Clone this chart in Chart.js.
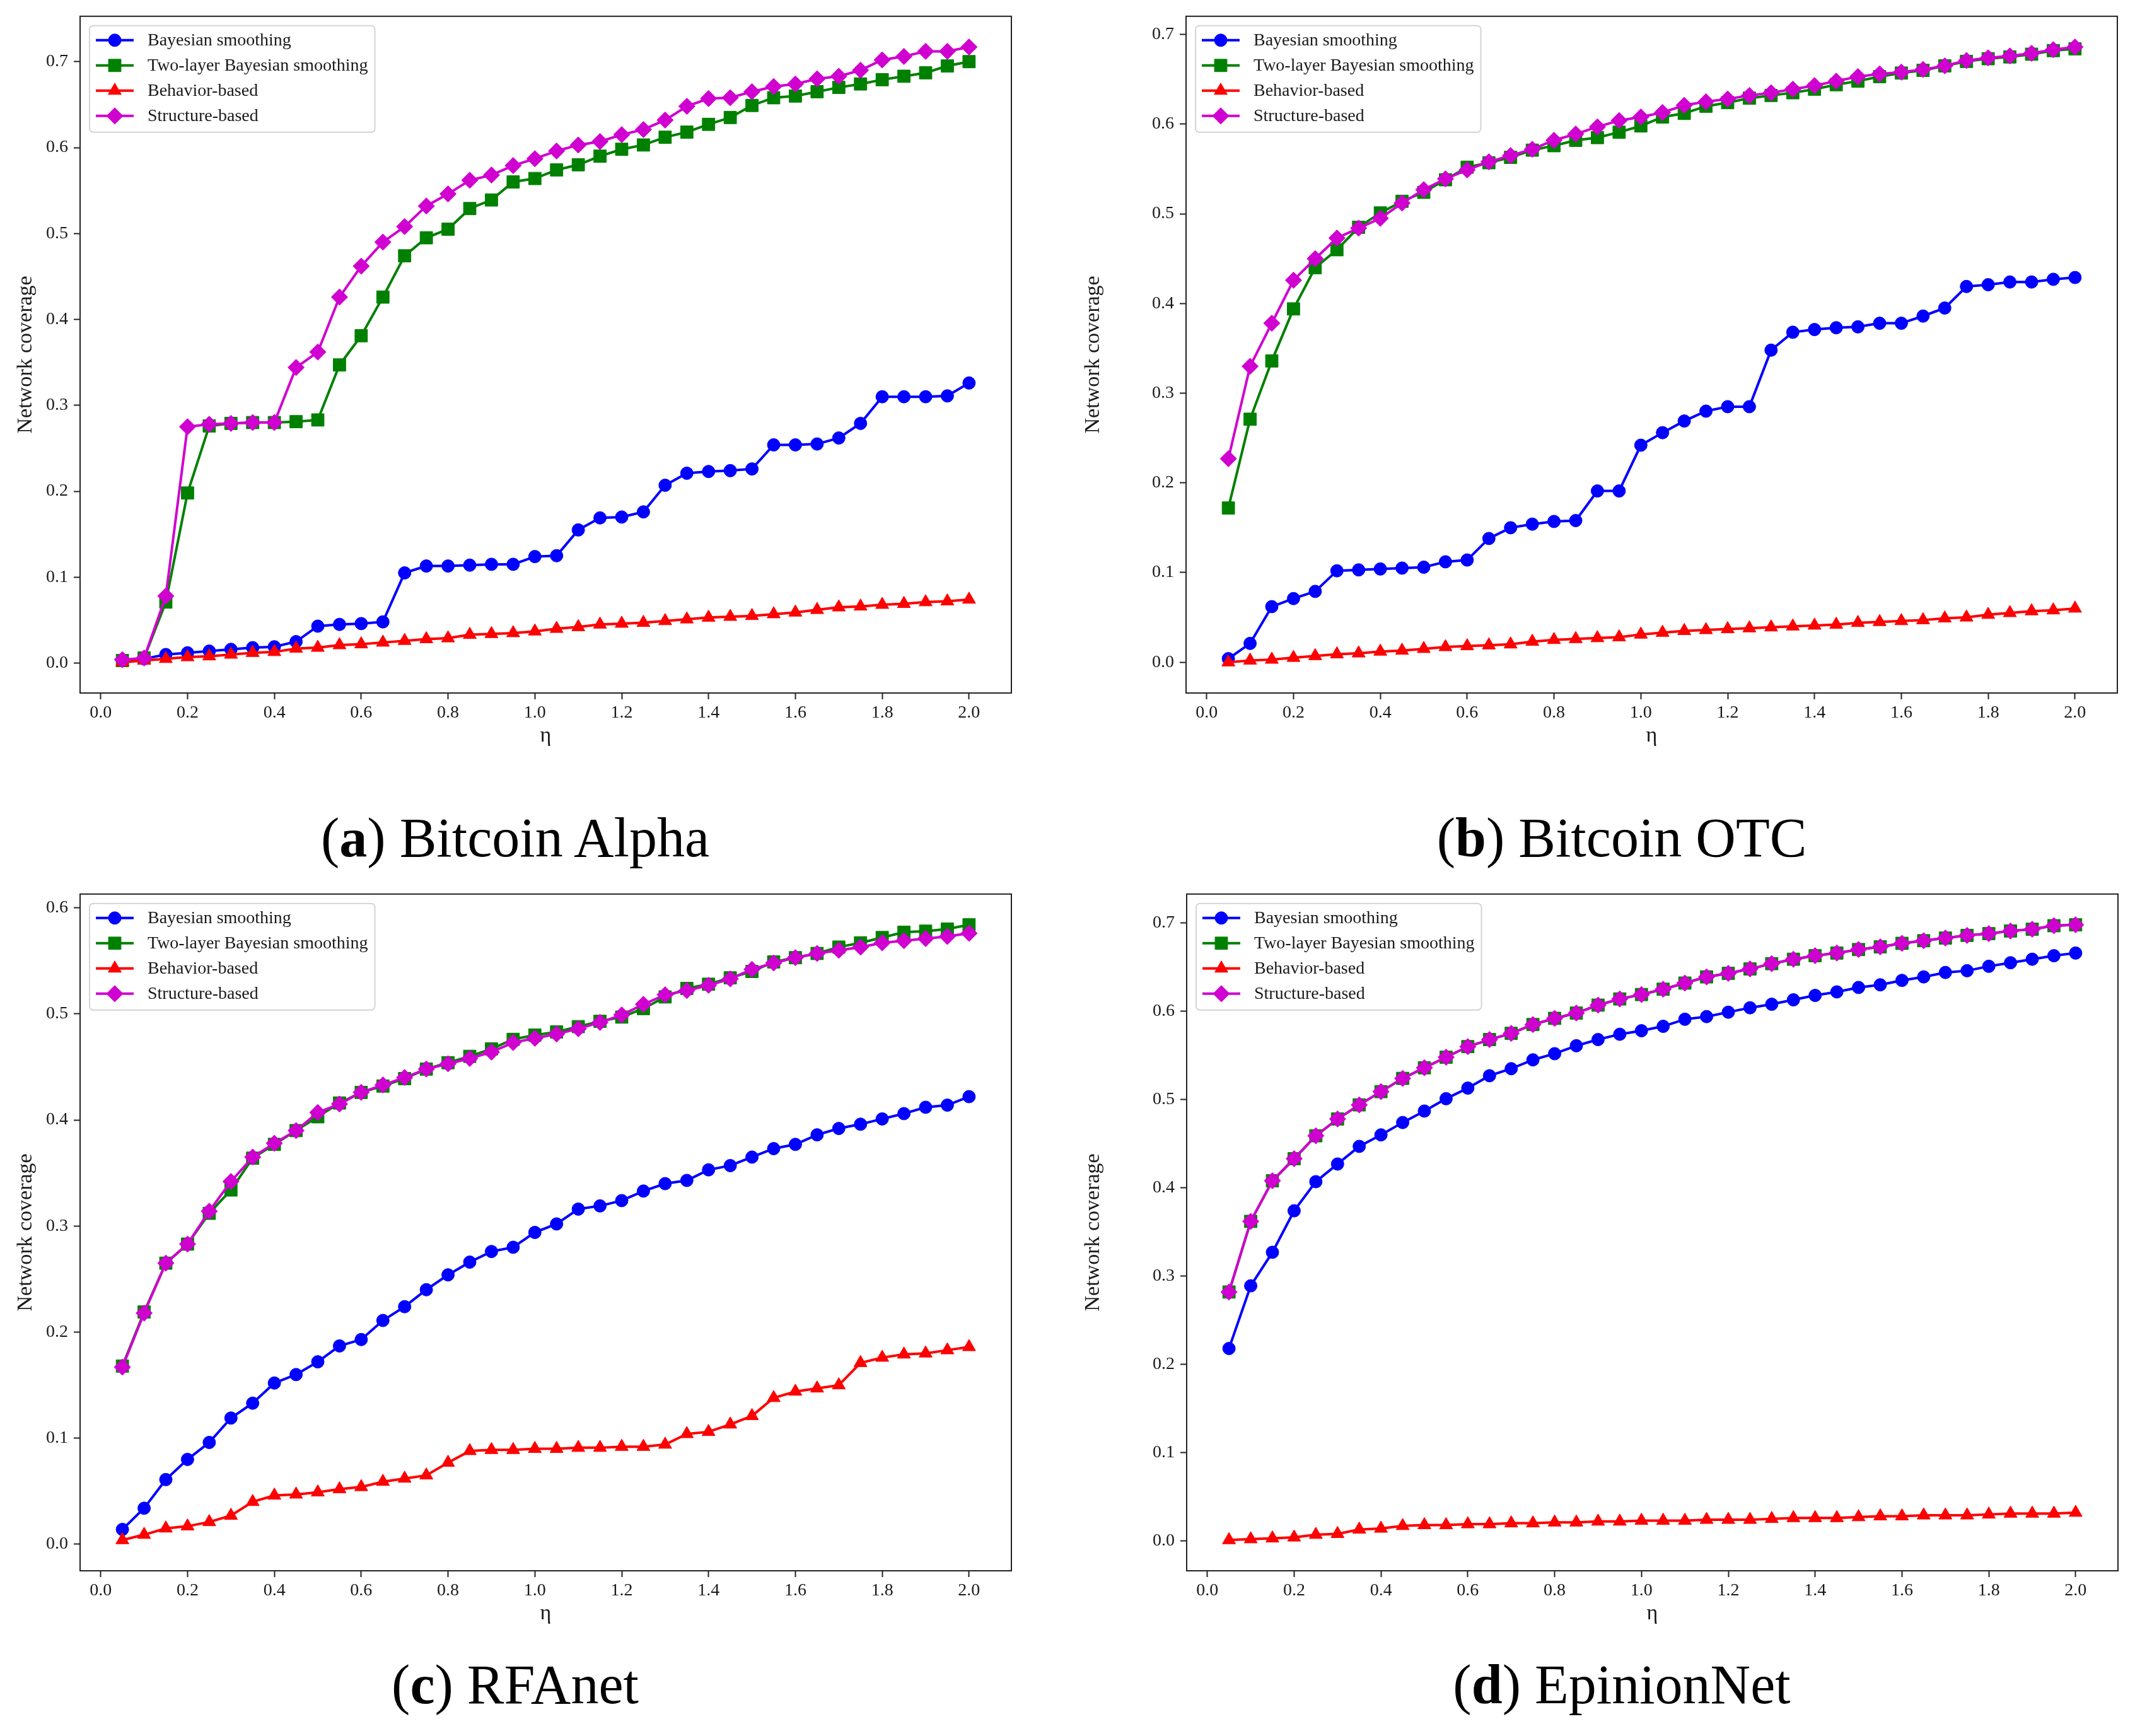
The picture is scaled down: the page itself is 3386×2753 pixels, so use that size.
<!DOCTYPE html>
<html><head><meta charset="utf-8">
<script src="https://cdn.jsdelivr.net/npm/chart.js@4/dist/chart.umd.min.js"></script>
<style>
html,body{margin:0;padding:0;background:#fff;}
body{width:3386px;height:2753px;position:relative;overflow:hidden;}
.panel{position:absolute;width:1693px;height:1200px;}
.cap{position:absolute;width:1400px;text-align:center;font-family:"Liberation Serif";font-size:88px;line-height:88px;color:#000;white-space:nowrap;}
</style></head><body>
<div class="panel" style="left:0px;top:0px"><canvas id="ca" width="1693" height="1200"></canvas></div>
<div class="panel" style="left:1693px;top:0px"><canvas id="cb" width="1693" height="1200"></canvas></div>
<div class="panel" style="left:0px;top:1392px"><canvas id="cc" width="1693" height="1200"></canvas></div>
<div class="panel" style="left:1693px;top:1392px"><canvas id="cd" width="1693" height="1200"></canvas></div>
<div class="cap" style="left:117px;top:1285px">(<b>a</b>) Bitcoin Alpha</div>
<div class="cap" style="left:1872px;top:1285px">(<b>b</b>) Bitcoin OTC</div>
<div class="cap" style="left:117px;top:2628px">(<b>c</b>) RFAnet</div>
<div class="cap" style="left:1872px;top:2628px">(<b>d</b>) EpinionNet</div>
<script>
// ---------- data ----------
const eta = [0.05,0.10,0.15,0.20,0.25,0.30,0.35,0.40,0.45,0.50,0.55,0.60,0.65,0.70,0.75,0.80,0.85,0.90,0.95,1.00,
             1.05,1.10,1.15,1.20,1.25,1.30,1.35,1.40,1.45,1.50,1.55,1.60,1.65,1.70,1.75,1.80,1.85,1.90,1.95,2.00];
const xTicks = [0.0,0.2,0.4,0.6,0.8,1.0,1.2,1.4,1.6,1.8,2.0];
const yTicks07 = [0.0,0.1,0.2,0.3,0.4,0.5,0.6,0.7];
const yTicks06 = [0.0,0.1,0.2,0.3,0.4,0.5,0.6];
const seriesNames = ['Bayesian smoothing','Two-layer Bayesian smoothing','Behavior-based','Structure-based'];
const panelCaptions = ['Bitcoin Alpha','Bitcoin OTC','RFAnet','EpinionNet'];

const alphaBayes = [0.003,0.005,0.010,0.012,0.014,0.016,0.018,0.019,0.025,0.043,0.045,0.046,0.048,0.105,0.113,0.113,0.114,0.115,0.115,0.124,
                    0.125,0.155,0.169,0.170,0.176,0.207,0.221,0.223,0.224,0.226,0.254,0.254,0.255,0.262,0.279,0.310,0.310,0.310,0.311,0.326];
const alphaTwoLayer = [0.003,0.006,0.071,0.198,0.276,0.279,0.280,0.280,0.281,0.283,0.347,0.381,0.426,0.474,0.495,0.505,0.529,0.539,0.560,0.564,
                       0.574,0.580,0.590,0.598,0.603,0.612,0.618,0.627,0.635,0.649,0.658,0.660,0.665,0.670,0.674,0.679,0.683,0.687,0.695,0.700];
const alphaBehavior = [0.001,0.003,0.005,0.007,0.008,0.010,0.012,0.013,0.017,0.018,0.021,0.022,0.024,0.026,0.028,0.029,0.033,0.034,0.035,0.037,
                       0.040,0.042,0.045,0.046,0.047,0.049,0.051,0.053,0.054,0.055,0.057,0.059,0.062,0.065,0.066,0.068,0.069,0.071,0.072,0.074];
const alphaStructure = [0.004,0.006,0.078,0.275,0.278,0.279,0.280,0.280,0.344,0.362,0.426,0.462,0.490,0.508,0.532,0.546,0.562,0.568,0.579,0.587,
                        0.596,0.603,0.607,0.615,0.621,0.632,0.648,0.657,0.658,0.665,0.671,0.674,0.680,0.683,0.690,0.702,0.706,0.712,0.712,0.717];

const otcBayes = [0.004,0.021,0.062,0.071,0.079,0.102,0.103,0.104,0.105,0.106,0.112,0.114,0.138,0.150,0.154,0.157,0.158,0.191,0.191,0.242,
                  0.256,0.269,0.280,0.285,0.285,0.348,0.368,0.371,0.373,0.374,0.378,0.378,0.386,0.395,0.419,0.421,0.424,0.424,0.427,0.429];
const otcTwoLayer = [0.172,0.271,0.336,0.394,0.440,0.460,0.485,0.501,0.514,0.524,0.538,0.552,0.557,0.563,0.571,0.576,0.582,0.585,0.591,0.598,
                     0.608,0.612,0.620,0.624,0.629,0.632,0.635,0.639,0.644,0.648,0.653,0.657,0.660,0.665,0.670,0.673,0.675,0.678,0.682,0.684];
const otcBehavior = [0.000,0.002,0.003,0.005,0.007,0.009,0.010,0.012,0.013,0.015,0.017,0.018,0.019,0.020,0.023,0.025,0.026,0.027,0.028,0.031,
                     0.033,0.035,0.036,0.037,0.038,0.039,0.040,0.041,0.042,0.044,0.045,0.046,0.047,0.049,0.050,0.053,0.055,0.057,0.058,0.060];
const otcStructure = [0.227,0.330,0.378,0.426,0.450,0.473,0.484,0.495,0.512,0.527,0.539,0.549,0.558,0.565,0.572,0.582,0.589,0.597,0.604,0.608,
                      0.613,0.621,0.625,0.628,0.632,0.635,0.639,0.643,0.648,0.653,0.656,0.658,0.661,0.665,0.671,0.674,0.676,0.679,0.683,0.686];

const rfaBayes = [0.014,0.034,0.061,0.080,0.096,0.119,0.133,0.152,0.160,0.172,0.187,0.193,0.211,0.224,0.240,0.254,0.266,0.276,0.280,0.294,
                  0.302,0.316,0.319,0.324,0.333,0.340,0.343,0.353,0.357,0.365,0.373,0.377,0.386,0.392,0.396,0.401,0.406,0.412,0.414,0.422];
const rfaTwoLayer = [0.168,0.219,0.265,0.283,0.312,0.334,0.364,0.377,0.390,0.403,0.416,0.426,0.432,0.439,0.448,0.454,0.460,0.467,0.476,0.480,
                     0.483,0.488,0.493,0.497,0.505,0.516,0.524,0.528,0.534,0.540,0.549,0.553,0.557,0.563,0.567,0.572,0.577,0.578,0.580,0.584];
const rfaBehavior = [0.004,0.009,0.015,0.017,0.021,0.027,0.040,0.046,0.047,0.049,0.052,0.054,0.059,0.062,0.065,0.077,0.088,0.089,0.089,0.090,
                     0.090,0.091,0.091,0.092,0.092,0.094,0.104,0.106,0.113,0.121,0.138,0.144,0.147,0.150,0.171,0.176,0.179,0.180,0.183,0.186];
const rfaStructure = [0.167,0.218,0.265,0.283,0.314,0.342,0.365,0.378,0.390,0.407,0.415,0.426,0.433,0.440,0.448,0.453,0.458,0.464,0.473,0.477,
                      0.481,0.486,0.492,0.499,0.509,0.518,0.522,0.527,0.533,0.542,0.548,0.553,0.557,0.560,0.563,0.567,0.569,0.571,0.573,0.576];

const epBayes = [0.218,0.289,0.327,0.374,0.407,0.427,0.447,0.460,0.474,0.487,0.501,0.513,0.527,0.535,0.545,0.552,0.561,0.568,0.574,0.578,
                 0.583,0.591,0.594,0.599,0.604,0.608,0.613,0.618,0.622,0.627,0.630,0.635,0.639,0.644,0.646,0.651,0.655,0.659,0.663,0.666];
const epTwoLayer = [0.282,0.362,0.408,0.433,0.459,0.478,0.494,0.509,0.524,0.536,0.548,0.560,0.568,0.575,0.585,0.592,0.598,0.607,0.614,0.619,
                    0.625,0.632,0.639,0.643,0.648,0.654,0.659,0.663,0.666,0.670,0.673,0.677,0.680,0.683,0.686,0.688,0.691,0.693,0.697,0.698];
const epBehavior = [0.001,0.002,0.003,0.004,0.007,0.008,0.013,0.014,0.017,0.018,0.018,0.019,0.019,0.020,0.020,0.021,0.021,0.022,0.022,0.023,
                    0.023,0.023,0.024,0.024,0.024,0.025,0.026,0.026,0.026,0.027,0.028,0.028,0.029,0.029,0.029,0.030,0.031,0.031,0.031,0.032];
const epStructure = [0.282,0.362,0.408,0.433,0.459,0.478,0.494,0.509,0.524,0.536,0.548,0.560,0.568,0.575,0.585,0.592,0.598,0.607,0.614,0.619,
                     0.625,0.632,0.639,0.643,0.648,0.654,0.659,0.663,0.666,0.670,0.673,0.677,0.680,0.683,0.686,0.688,0.691,0.693,0.697,0.698];

// ---------- styling ----------
const FONT = 'Liberation Serif';
const TXT = '#1a1a1a';
const styles = [
  {color:'#0000ff', point:'circle',   radius:10},
  {color:'#008000', point:'rect',     radius:14},
  {color:'#ff0000', point:'triangle', radius:12},
  {color:'#d000d0', point:'rectRot',  radius:13}
];
const drawOrder = [3,2,1,0]; // later series on top (like matplotlib)

const framePlugin = {
  id:'frame',
  afterDatasetsDraw(chart){
    const a = chart.chartArea, ctx = chart.ctx;
    ctx.save();
    ctx.strokeStyle = '#222'; ctx.lineWidth = 2;
    ctx.strokeRect(a.left, a.top, a.right - a.left, a.bottom - a.top);
    ctx.restore();
  }
};
const legendPlugin = {
  id:'mplLegend',
  afterDraw(chart){
    const ctx = chart.ctx, a = chart.chartArea;
    const dsets = chart.data.datasets;
    ctx.save();
    ctx.font = '28px "' + FONT + '"';
    let maxW = 0;
    dsets.forEach(d => { maxW = Math.max(maxW, ctx.measureText(d.label).width); });
    const x0 = a.left + 15, y0 = a.top + 15;
    const w = 92 + maxW + 11, h = 169;
    ctx.beginPath();
    if (ctx.roundRect) ctx.roundRect(x0, y0, w, h, 6); else ctx.rect(x0, y0, w, h);
    ctx.fillStyle = 'rgba(255,255,255,0.85)'; ctx.fill();
    ctx.strokeStyle = '#d4d4d4'; ctx.lineWidth = 2; ctx.stroke();
    dsets.forEach((d, i) => {
      const cy = a.top + 38 + i * 40;
      ctx.strokeStyle = d.borderColor; ctx.lineWidth = d.borderWidth;
      ctx.beginPath(); ctx.moveTo(a.left + 25, cy); ctx.lineTo(a.left + 85, cy); ctx.stroke();
      ctx.fillStyle = d.pointBackgroundColor; ctx.strokeStyle = d.pointBorderColor; ctx.lineWidth = 1;
      Chart.helpers.drawPoint(ctx, {pointStyle:d.pointStyle, radius:d.pointRadius, borderWidth:1, rotation:0}, a.left + 55, cy);
      ctx.fillStyle = TXT; ctx.textAlign = 'left'; ctx.textBaseline = 'middle';
      ctx.fillText(d.label, a.left + 107, cy + 1);
    });
    ctx.restore();
  }
};

function makeDatasets(seriesList){
  return seriesList.map((vals, k) => ({
    label: seriesNames[k],
    data: eta.map((x, i) => ({x: x, y: vals[i]})),
    borderColor: styles[k].color,
    backgroundColor: styles[k].color,
    pointBackgroundColor: styles[k].color,
    pointBorderColor: styles[k].color,
    pointBorderWidth: 1,
    borderWidth: 4,
    pointStyle: styles[k].point,
    pointRadius: styles[k].radius,
    pointHoverRadius: styles[k].radius,
    tension: 0,
    fill: false,
    order: drawOrder[k]
  }));
}

function makeChart(id, seriesList, yTicks, L, R){
  const T = 24, B = 1099, XH = 88, CW = 1693, CH = 1200;
  let lo = Infinity, hi = -Infinity;
  seriesList.forEach(s => s.forEach(v => { lo = Math.min(lo, v); hi = Math.max(hi, v); }));
  const yPad = (hi - lo) * 0.05;
  const xPad = (eta[eta.length-1] - eta[0]) * 0.05;
  new Chart(document.getElementById(id), {
    type: 'line',
    data: { datasets: makeDatasets(seriesList) },
    options: {
      responsive: false, animation: false, events: [],
      devicePixelRatio: 1,
      layout: { padding: { left: 0, top: T, right: CW - R, bottom: CH - (B + XH) } },
      plugins: { legend: {display:false}, tooltip: {enabled:false}, title: {display:false} },
      scales: {
        x: {
          type: 'linear',
          min: eta[0] - xPad, max: eta[eta.length-1] + xPad,
          afterBuildTicks: s => { s.ticks = xTicks.map(v => ({value: v})); },
          afterFit: s => { s.height = XH; },
          ticks: { font:{family:FONT, size:28}, color:TXT, padding:5, autoSkip:false, maxRotation:0,
                   callback: v => Number(v).toFixed(1) },
          grid: { display:true, drawOnChartArea:false, drawTicks:true, tickLength:10, tickWidth:2, tickColor:'#222' },
          border: { display:false },
          title: { display:true, text:'η', font:{family:FONT, size:34}, color:TXT, padding:{top:0, bottom:0} }
        },
        y: {
          type: 'linear',
          min: lo - yPad, max: hi + yPad,
          afterBuildTicks: s => { s.ticks = yTicks.map(v => ({value: v})); },
          afterFit: s => { s.width = L; },
          ticks: { font:{family:FONT, size:28}, color:TXT, padding:9, autoSkip:false,
                   callback: v => Number(v).toFixed(1) },
          grid: { display:true, drawOnChartArea:false, drawTicks:true, tickLength:10, tickWidth:2, tickColor:'#222' },
          border: { display:false },
          title: { display:true, text:'Network coverage', font:{family:FONT, size:34}, color:TXT, padding:{top:21, bottom:0} }
        }
      }
    },
    plugins: [framePlugin, legendPlugin]
  });
}

makeChart('ca', [alphaBayes, alphaTwoLayer, alphaBehavior, alphaStructure], yTicks07, 127, 1604);
makeChart('cb', [otcBayes, otcTwoLayer, otcBehavior, otcStructure], yTicks07, 188, 1665);
makeChart('cc', [rfaBayes, rfaTwoLayer, rfaBehavior, rfaStructure], yTicks06, 127, 1604);
makeChart('cd', [epBayes, epTwoLayer, epBehavior, epStructure], yTicks07, 189, 1666);
</script>
</body></html>
